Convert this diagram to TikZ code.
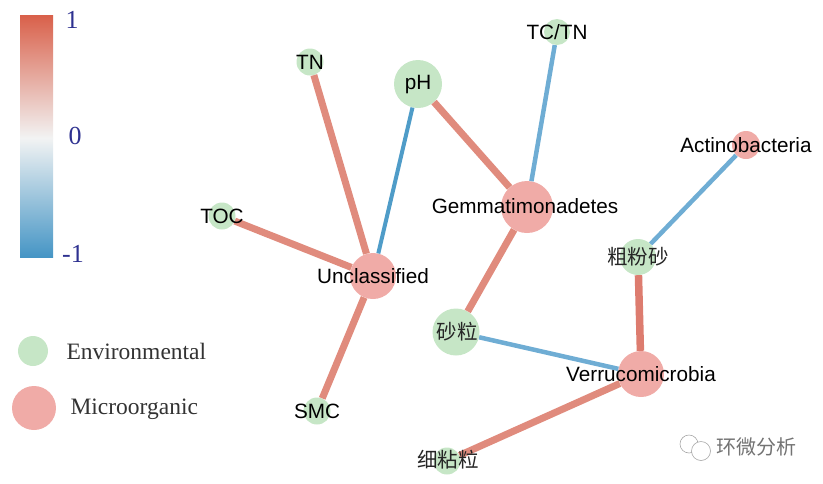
\documentclass[tikz,border=0pt]{standalone}
\usepackage{fontspec}
\setmainfont{Liberation Sans}
\newfontfamily\serifface{Liberation Serif}
\newfontfamily\cjk{Noto Sans CJK SC}
\definecolor{envgreen}{HTML}{C6E6C6}
\definecolor{micropink}{HTML}{F0ABA7}
\definecolor{edgered}{HTML}{E08B7D}
\definecolor{edgedark}{HTML}{DD7C6F}
\definecolor{edgeblue}{HTML}{6FADD4}
\definecolor{edgedeep}{HTML}{4F9CC8}
\definecolor{barhi}{HTML}{D9604A}
\definecolor{barmid}{HTML}{F2F3F3}
\definecolor{barlo}{HTML}{4595C5}
\definecolor{ticknavy}{HTML}{2E3190}
\tikzset{
  x=1pt,y=-1pt,
  env/.style={circle,fill=envgreen,draw=none,inner sep=0pt,minimum size=#1},
  mic/.style={circle,fill=micropink,draw=none,inner sep=0pt,minimum size=#1},
  nm/.style={font=\fontsize{20.7}{22}\selectfont,text=black},
  cn/.style={font=\cjk\fontsize{20.5}{22}\selectfont,text=black!85},
  ticklab/.style={font=\serifface\fontsize{26}{28}\selectfont,text=ticknavy},
  legendtxt/.style={font=\serifface\fontsize{23.5}{26}\selectfont,text=black!80},
  redge/.style={edgered,line width=7pt},
  dedge/.style={edgedark,line width=7.5pt},
  bedge/.style={edgeblue,line width=4.5pt},
  deepedge/.style={edgedeep,line width=4pt},
  wmtext/.style={font=\cjk\fontsize{20}{22}\selectfont,text=black!55}
}
\begin{document}
\begin{tikzpicture}
\useasboundingbox (0,0) rectangle (823,483);
% colour bar
\shade[top color=barhi,bottom color=barmid] (20,15) rectangle (53,138);
\shade[top color=barmid,bottom color=barlo] (20,138) rectangle (53,257);
\node[ticklab] (t1) at (72,20) {1};
\node[ticklab] (t0) at (75,136) {0};
\node[ticklab] (tm) at (73,254) {-1};
% legend
\node[env=30pt] (legA) at (33,351) {};
\node[mic=44pt] (legB) at (34,408) {};
\node[legendtxt,anchor=west] (legAt) at (63,351) {Environmental};
\node[legendtxt,anchor=west] (legBt) at (67,409) {Microorganic};
% network nodes
\node[env=27pt] (tn) at (310,62) {};
\node[env=48pt] (ph) at (418,84) {};
\node[env=26pt] (tctn) at (557,32) {};
\node[mic=28pt] (act) at (746,145) {};
\node[mic=52pt] (gem) at (527,207) {};
\node[env=27pt] (toc) at (222,216) {};
\node[mic=46pt] (unc) at (373,276) {};
\node[env=36pt] (cfs) at (638,257) {};
\node[env=47pt] (sl) at (456,332) {};
\node[mic=46pt] (ver) at (641,374) {};
\node[env=27pt] (smc) at (317,411) {};
\node[env=27pt] (xnl) at (447,461) {};
% connectors
\draw[bedge] (tctn) -- (gem);
\draw[deepedge] (ph) -- (unc);
\draw[redge] (ph) -- (gem);
\draw[redge] (tn) -- (unc);
\draw[redge] (toc) -- (unc);
\draw[redge] (smc) -- (unc);
\draw[redge] (gem) -- (sl);
\draw[bedge] (sl) -- (ver);
\draw[dedge] (cfs) -- (ver);
\draw[bedge] (act) -- (cfs);
\draw[redge] (xnl) -- (ver);
% labels
\node[nm] (ltn) at (310,62) {TN};
\node[nm] (lph) at (418,85) {pH};
\node[nm] (ltc) at (557,32) {TC/TN};
\node[nm] (lac) at (746,145) {Actinobacteria};
\node[nm] (lge) at (525,206) {Gemmatimonadetes};
\node[nm] (lto) at (222,216) {TOC};
\node[nm] (lun) at (373,276) {Unclassified};
\node[cn] (lcf) at (638,257) {粗粉砂};
\node[cn] (lsl) at (457,332) {砂粒};
\node[nm] (lve) at (641,374) {Verrucomicrobia};
\node[nm] (lsm) at (317,411) {SMC};
\node[cn] (lxn) at (448,460) {细粘粒};
% watermark
\draw[black!35,line width=.6pt,fill=white] (689,444) circle (9pt);
\draw[black!35,line width=.6pt,fill=white] (701,451) circle (9.5pt);
\node[wmtext,anchor=west] (wm) at (713,447) {环微分析};
\end{tikzpicture}
\end{document}
